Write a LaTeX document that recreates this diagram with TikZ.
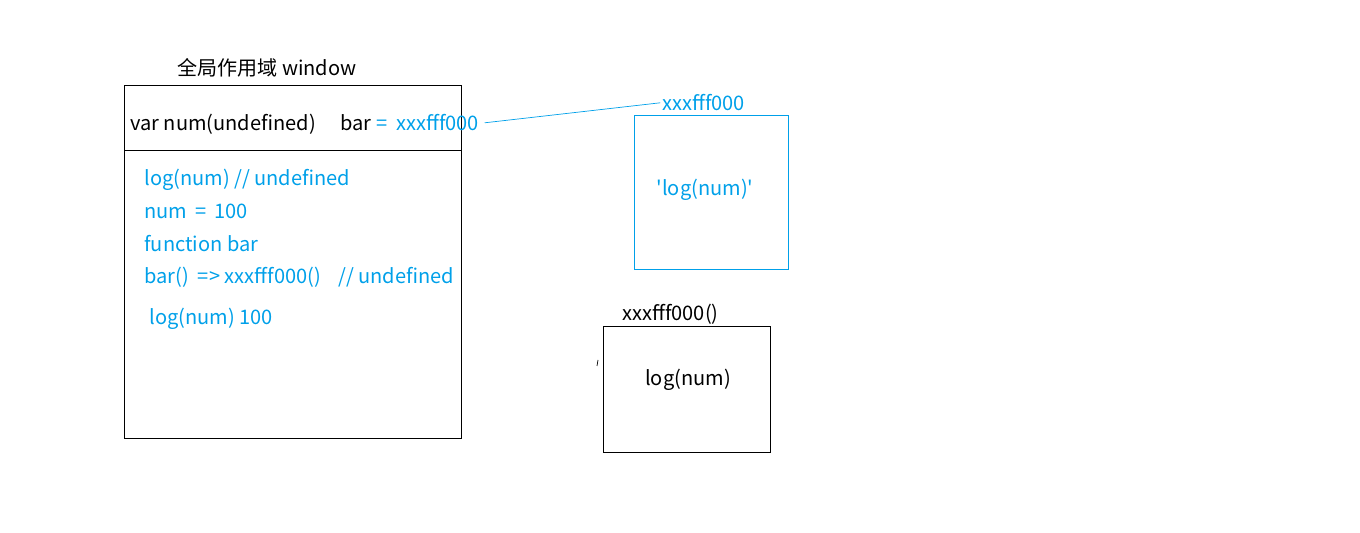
\documentclass[tikz,border=0pt]{standalone}
\usepackage{fontspec}
\setmainfont{Noto Sans CJK SC}
\usepackage{xcolor}
\usepackage{tikz}
\definecolor{codeblue}{RGB}{0,160,233}

\begin{document}
\begin{tikzpicture}[x=0.02cm,y=-0.02cm,
    txt/.style={inner sep=0pt,font=\fontsize{11.4}{13}\selectfont},
    bluetxt/.style={txt,text=codeblue}]
  \useasboundingbox (0,0) rectangle (1360,533);

  \draw[black]    (124,85) rectangle (461,438);
  \draw[black]    (124,150) -- (461,150);
  \draw[codeblue] (634,115) rectangle (788,269);
  \draw[black]    (603,326) rectangle (770,452);
  \draw[black]    (598,360) -- (597,366);

  \node[txt] (title) at (267,68) {全局作用域 window};
  \node[txt,anchor=mid west] (varnum) at (130,126) {var num(undefined)};
  \node[txt,anchor=mid west] (bar) at (340,126) {bar};
  \node[bluetxt,anchor=mid west] (barval) at (376,126) {=\ \ xxxfff000};

  \node[bluetxt,anchor=mid west] (line1) at (144,181) {log(num) // undefined};
  \node[bluetxt,anchor=mid west] (line2) at (144,214) {num\,\ =\ \,100};
  \node[bluetxt,anchor=mid west] (line3) at (144,247) {function bar};
  \node[bluetxt,anchor=mid west] (line4) at (144,279) {bar()\ \ =>\ xxxfff000()};
  \node[bluetxt,anchor=mid west] (line4c) at (338,279) {// undefined};
  \node[bluetxt,anchor=mid west] (line5) at (149,320) {log(num) 100};

  \node[bluetxt,anchor=mid west] (addr) at (662,106) {xxxfff000};
  \node[bluetxt] (heapfn) at (705,190) {\textquotesingle log(num)\textquotesingle};

  \node[txt,anchor=mid west] (fnname) at (622,316) {xxxfff000()};
  \node[txt] (fnbody) at (688,380) {log(num)};

  \draw[codeblue] ([xshift=3pt]barval.east) -- ([xshift=-1pt]addr.west);
\end{tikzpicture}
\end{document}
